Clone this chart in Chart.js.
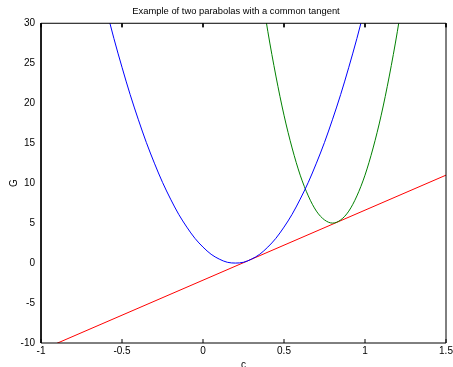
<!DOCTYPE html>
<html>
<head>
<meta charset="utf-8">
<script src="https://cdn.jsdelivr.net/npm/chart.js@4"></script>
<style>
  html, body { margin: 0; padding: 0; background: #fff; }
</style>
</head>
<body>
<canvas id="chart" width="453" height="367"></canvas>
<script>
// values
const blueC = [-0.6, -0.55, -0.5, -0.45, -0.4, -0.35, -0.3, -0.25, -0.2, -0.15, -0.1, -0.05, 0, 0.05, 0.1, 0.15, 0.2,
  0.25, 0.3, 0.35, 0.4, 0.45, 0.5, 0.55, 0.6, 0.65, 0.7, 0.75, 0.8, 0.85, 0.9, 0.95, 1.0];
const blueG = [32, 28.1, 24.5, 21.1, 18, 15.1, 12.5, 10.1, 8, 6.1, 4.5, 3.1, 2, 1.1, 0.5, 0.1, 0,
  0.1, 0.5, 1.1, 2, 3.1, 4.5, 6.1, 8, 10.1, 12.5, 15.1, 18, 21.1, 24.5, 28.1, 32];

const greenC = [0.35, 0.4, 0.45, 0.5, 0.55, 0.6, 0.65, 0.7, 0.75, 0.8, 0.85, 0.9, 0.95, 1.0, 1.05, 1.1, 1.15, 1.2, 1.25];
const greenG = [35.4, 29, 23.4, 18.5, 14.4, 11, 8.4, 6.5, 5.4, 5, 5.4, 6.5, 8.4, 11, 14.4, 18.5, 23.4, 29, 35.4];

const redC = [-1, 1.5];
const redG = [-10.9, 11.0];

const xTicks = [-1, -0.5, 0, 0.5, 1, 1.5];
const yTicks = [-10, -5, 0, 5, 10, 15, 20, 25, 30];

const titleText = "Example of two parabolas with a common tangent";
const xLabel = "c";
const yLabel = "G";

const xMin = -1, xMax = 1.5, yMin = -10, yMax = 30;

function pts(xs, ys) {
  return xs.map((x, i) => ({ x: x, y: ys[i] }));
}

// MATLAB style frame with inward ticks, drawn as a black line dataset with gaps
function framePoints() {
  const tx = 0.025, ty = 0.5; // about 4px in data units
  const p = [
    { x: xMin, y: yMin }, { x: xMax, y: yMin }, { x: xMax, y: yMax }, { x: xMin, y: yMax }, { x: xMin, y: yMin },
    { x: xMin, y: null }
  ];
  xTicks.forEach(v => {
    p.push({ x: v, y: yMin }, { x: v, y: yMin + ty }, { x: v, y: null });
    p.push({ x: v, y: yMax }, { x: v, y: yMax - ty }, { x: v, y: null });
  });
  yTicks.forEach(v => {
    p.push({ x: xMin, y: v }, { x: xMin + tx, y: v }, { x: xMin, y: null });
    p.push({ x: xMax, y: v }, { x: xMax - tx, y: v }, { x: xMax, y: null });
  });
  return p;
}

const font = { family: "'Liberation Sans', Arial, sans-serif", size: 10 };

function setTicks(list) {
  return s => { s.ticks = list.map(v => ({ value: v })); };
}

new Chart(document.getElementById("chart"), {
  type: "line",
  data: {
    datasets: [
      { data: framePoints(), borderColor: "#000000", cubicInterpolationMode: "default", tension: 0, spanGaps: false, clip: false },
      { data: pts(blueC, blueG), borderColor: "#0000ff" },
      { data: pts(greenC, greenG), borderColor: "#008000" },
      { data: pts(redC, redG), borderColor: "#ff0000" }
    ]
  },
  options: {
    responsive: false,
    animation: false,
    parsing: false,
    layout: { padding: { left: 19, right: 0, top: 0, bottom: 0 } },
    elements: {
      point: { radius: 0 },
      line: { borderWidth: 1, cubicInterpolationMode: "monotone", fill: false }
    },
    plugins: {
      legend: { display: false },
      tooltip: { enabled: false },
      title: {
        display: true,
        text: titleText,
        color: "#000",
        font: { family: font.family, size: 9.4, weight: "normal" },
        padding: { top: 6, bottom: 6 }
      }
    },
    scales: {
      x: {
        type: "linear",
        min: xMin,
        max: xMax,
        afterBuildTicks: setTicks(xTicks),
        afterFit: s => { s.height = 24; s.paddingLeft = 0; s.paddingRight = 7; },
        grid: { display: false, drawTicks: false },
        border: { display: false },
        ticks: { color: "#000", font: font, padding: 2, maxRotation: 0, callback: v => String(v) },
        title: { display: true, text: xLabel, color: "#000", font: font, padding: { top: 0, bottom: -4 } }
      },
      y: {
        type: "linear",
        min: yMin,
        max: yMax,
        afterBuildTicks: setTicks(yTicks),
        afterFit: s => { s.width = 22; },
        grid: { display: false, drawTicks: false },
        border: { display: false },
        ticks: { color: "#000", font: font, padding: 6, callback: v => String(v) },
        title: { display: true, text: yLabel, color: "#000", font: font, padding: { top: -11, bottom: 0 } }
      }
    }
  }
});
</script>
</body>
</html>
